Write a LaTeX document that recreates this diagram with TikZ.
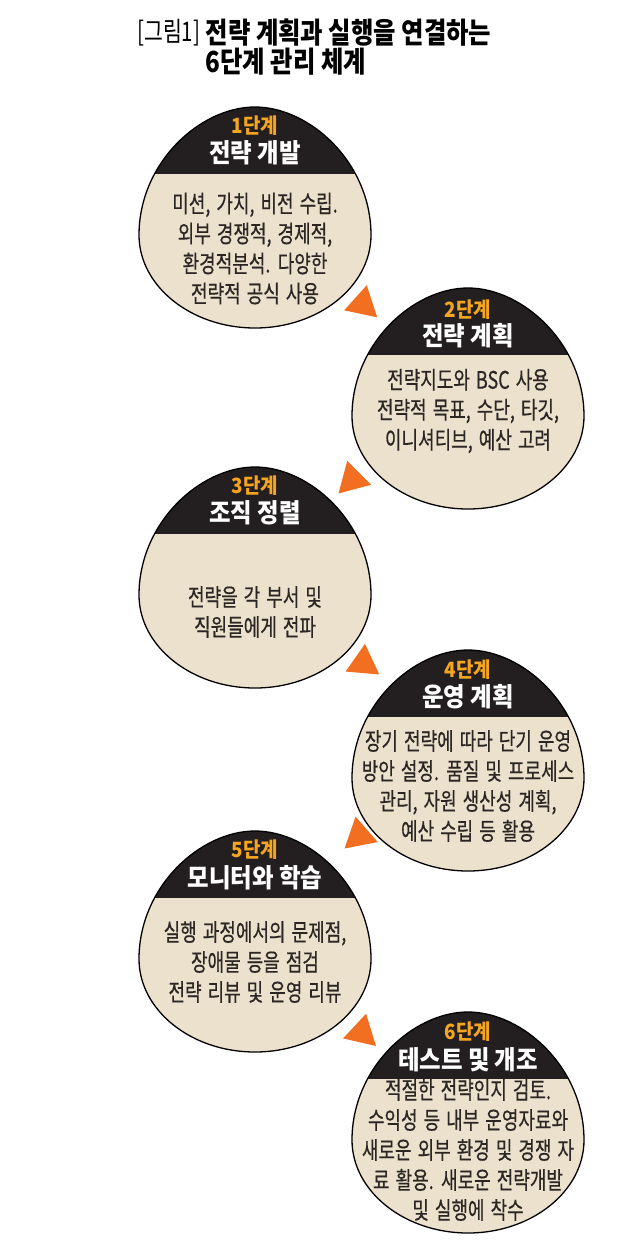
\documentclass[tikz,border=0pt]{standalone}
\usepackage{fontspec}
\newfontfamily\krfont[FakeStretch=0.9]{Noto Sans CJK KR}
\newfontfamily\krcond[FakeStretch=0.84]{Noto Sans CJK KR}
\newfontfamily\krbody[FakeStretch=0.75, FakeBold=0.4]{Noto Sans CJK KR}
\newfontfamily\krthin[FakeStretch=0.76]{Noto Sans CJK KR}
\newcommand\bodyspacing{\spaceskip=6pt plus 1pt minus 1pt\relax}
\usepackage{xcolor}
\definecolor{stage-cap}{HTML}{231F20}
\definecolor{stage-body}{HTML}{ECE1CD}
\definecolor{stage-num}{HTML}{F5A51E}
\definecolor{marker-orange}{HTML}{F26F22}
\definecolor{body-text}{HTML}{2B2624}
\usepackage{tikz}
\usetikzlibrary{
  shapes.geometric,
  positioning
}

\begin{document}
\begin{tikzpicture}[
    x=1pt, y=-1pt,
    stage outline/.style={
      insert path={(0,-128) .. controls (55,-128) and (116,-72) .. (116,0)
        .. controls (116,51) and (64,93) .. (0,93)
        .. controls (-64,93) and (-116,51) .. (-116,0)
        .. controls (-116,-72) and (-55,-128) .. (0,-128) -- cycle}
    },
    stage/.pic={
      \fill[stage-body, stage outline];
      \begin{scope}
        \clip[stage outline];
        \fill[stage-cap] (-130,-140) rectangle (130,-61);
      \end{scope}
      \draw[black, line width=1.3pt, stage outline];
    },
    stagenum/.style={
      font=\krfont\bfseries\fontsize{21}{21}\selectfont,
      text=stage-num,
      inner sep=0pt
    },
    stagetitle/.style={
      font=\krfont\bfseries\fontsize{26}{26}\selectfont,
      text=white,
      inner sep=0pt
    },
    stagetext/.style={
      font=\krbody\fontsize{24}{30}\selectfont\bodyspacing,
      text=body-text,
      align=center,
      inner sep=0pt
    },
    marker/.style={
      regular polygon,
      regular polygon sides=3,
      fill=marker-orange,
      minimum size=39pt,
      inner sep=0pt
    },
    caption/.style={
      font=\krcond\bfseries\fontsize{29}{29}\selectfont,
      text=black,
      inner sep=0pt
    }
  ]
    \useasboundingbox (0,0) rectangle (640,1259);

    % Figure caption
    \node[caption, font=\krthin\fontsize{27}{27}\selectfont, anchor=west]
      (figtag) at (137,33) {[그림1]};
    \node[caption, right=5pt of figtag] (figline1) {전략 계획과 실행을 연결하는};
    \node[caption, anchor=west] (figline2) at ([yshift=-29pt]figline1.west) {6단계 관리 체계};

    % Stage centres
    \coordinate (s1) at (255,235);
    \coordinate (s2) at (468,416);
    \coordinate (s3) at (255,595);
    \coordinate (s4) at (468,778);
    \coordinate (s5) at (255,959);
    \coordinate (s6) at (468,1140);

    % Stage shapes
    \pic at (s1) {stage};
    \pic at (s2) {stage};
    \pic at (s3) {stage};
    \pic at (s4) {stage};
    \pic at (s5) {stage};
    \pic at (s6) {stage};

    % Stage 1
    \node[stagenum]   (s1num)   at ([yshift=109pt]s1) {1단계};
    \node[stagetitle] (s1title) at ([yshift=82pt]s1)  {전략 개발};
    \node[stagetext]  (s1text)  at ([yshift=-13.5pt]s1)
      {미션, 가치, 비전 수립.\\외부 경쟁적, 경제적,\\환경적분석. 다양한\\전략적 공식 사용};

    % Stage 2
    \node[stagenum]   (s2num)   at ([yshift=106pt]s2) {2단계};
    \node[stagetitle] (s2title) at ([yshift=80pt]s2)  {전략 계획};
    \node[stagetext]  (s2text)  at ([yshift=5pt]s2)
      {전략지도와 BSC 사용\\전략적 목표, 수단, 타깃,\\이니셔티브, 예산 고려};

    % Stage 3
    \node[stagenum]   (s3num)   at ([yshift=109pt]s3) {3단계};
    \node[stagetitle] (s3title) at ([yshift=82pt]s3)  {조직 정렬};
    \node[stagetext]  (s3text)  at ([yshift=-17pt]s3)
      {전략을 각 부서 및\\직원들에게 전파};

    % Stage 4
    \node[stagenum]   (s4num)   at ([yshift=108pt]s4) {4단계};
    \node[stagetitle] (s4title) at ([yshift=81pt]s4)  {운영 계획};
    \node[stagetext]  (s4text)  at ([yshift=-8pt]s4)
      {장기 전략에 따라 단기 운영\\방안 설정. 품질 및 프로세스\\관리, 자원 생산성 계획,\\예산 수립 등 활용};

    % Stage 5
    \node[stagenum]   (s5num)   at ([yshift=109pt]s5) {5단계};
    \node[stagetitle] (s5title) at ([yshift=81pt]s5)  {모니터와 학습};
    \node[stagetext]  (s5text)  at ([yshift=-3pt]s5)
      {실행 과정에서의 문제점,\\장애물 등을 점검\\전략 리뷰 및 운영 리뷰};

    % Stage 6
    \node[stagenum]   (s6num)   at ([yshift=108pt]s6) {6단계};
    \node[stagetitle] (s6title) at ([yshift=80pt]s6)  {테스트 및 개조};
    \node[stagetext]  (s6text)  at ([yshift=-10pt]s6)
      {적절한 전략인지 검토.\\수익성 등 내부 운영자료와\\새로운 외부 환경 및 경쟁 자\\료 활용. 새로운 전략개발\\및 실행에 착수};

    % Orange markers between stages
    \node[marker, rotate=-132] (m12) at (362.7,304.3) {};
    \node[marker, rotate=135]  (m23) at (352.3,479.7) {};
    \node[marker, rotate=-125] (m34) at (363.3,663.3) {};
    \node[marker, rotate=131]  (m45) at (359.3,835.7) {};
    \node[marker, rotate=-133] (m56) at (361.7,1032.7) {};
  \end{tikzpicture}
\end{document}
